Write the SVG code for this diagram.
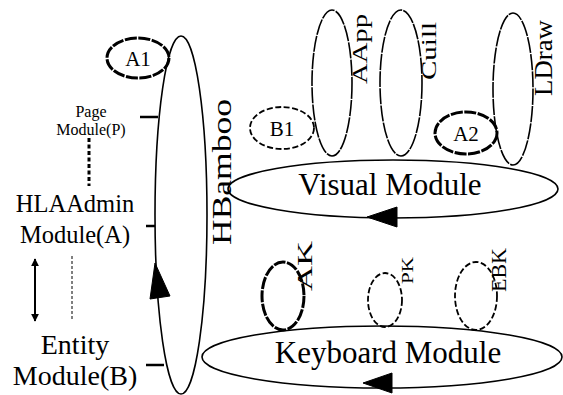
<svg xmlns="http://www.w3.org/2000/svg" width="563" height="395" viewBox="0 0 563 395">
  <style>
    text { font-family: "Liberation Serif", "Times New Roman", serif; fill: #000; }
    .outline { fill: none; stroke: #000; stroke-width: 1.6; }
    .rough { fill: none; stroke: #000; stroke-width: 1.6; stroke-dasharray: 16 1.2; }
    .dashed { fill: none; stroke: #000; stroke-width: 1.8; stroke-dasharray: 6 2.5; }
    .bold { fill: none; stroke: #000; stroke-width: 3; stroke-dasharray: 12 1.5; }
    .tick { stroke: #000; stroke-width: 2.5; }
    .head { fill: #000; stroke: #000; stroke-width: 1; }
  </style>
  <defs>
    <marker id="tip" viewBox="0 0 10 10" refX="9" refY="5" markerWidth="4" markerHeight="4" orient="auto-start-reverse">
      <path d="M0,0 L10,5 L0,10 z" fill="#000"/>
    </marker>
  </defs>

  <rect width="563" height="395" fill="#fff"/>

  <!-- left legend -->
  <g id="legend">
    <text x="91" y="117" font-size="16" text-anchor="middle">Page</text>
    <text x="91" y="135" font-size="16" text-anchor="middle">Module(P)</text>
    <text x="75" y="212" font-size="24.5" text-anchor="middle">HLAAdmin</text>
    <text x="75" y="243" font-size="24.5" text-anchor="middle">Module(A)</text>
    <text x="75" y="354" font-size="28" text-anchor="middle">Entity</text>
    <text x="75" y="385" font-size="28" text-anchor="middle">Module(B)</text>
  </g>

  <!-- connectors and legend strokes -->
  <g id="connectors">
    <line x1="89" y1="138" x2="89" y2="186" stroke="#000" stroke-width="3" stroke-dasharray="4 2.5"/>
    <line x1="35" y1="259" x2="35" y2="321" stroke="#000" stroke-width="2" marker-start="url(#tip)" marker-end="url(#tip)"/>
    <line x1="72" y1="256" x2="72" y2="320" stroke="#000" stroke-width="1" stroke-dasharray="3 2"/>
    <line class="tick" x1="140" y1="117" x2="158" y2="117"/>
    <line class="tick" x1="146" y1="226" x2="155" y2="226"/>
    <line class="tick" x1="146" y1="365" x2="164" y2="365"/>
    <!-- arrowheads riding on the module loops -->
    <path class="head" d="M155,263 L170,296 L150,299 z"/>
    <path class="head" d="M367,217 L397,207 L397,227 z"/>
    <path class="head" d="M363,383 L392,373 L392,393 z"/>
  </g>

  <!-- tall module loop -->
  <g id="bamboo">
    <ellipse class="outline" cx="181" cy="215" rx="26" ry="179"/>
    <text transform="translate(231,245) rotate(-90)" font-size="28" textLength="146" lengthAdjust="spacingAndGlyphs">HBamboo</text>
  </g>

  <g id="a1">
    <ellipse class="bold" cx="138" cy="58" rx="31" ry="20"/>
    <text x="138" y="66" font-size="21" text-anchor="middle">A1</text>
  </g>

  <!-- visual module -->
  <g id="visual">
    <ellipse class="outline" cx="393" cy="189" rx="165" ry="29"/>
    <text x="390" y="195" font-size="31" text-anchor="middle">Visual Module</text>
  </g>

  <g id="app">
    <ellipse class="rough" cx="332" cy="83" rx="20" ry="73"/>
    <text transform="translate(367,84) rotate(-90)" font-size="22" textLength="70" lengthAdjust="spacingAndGlyphs">AApp</text>
  </g>

  <g id="gui">
    <ellipse class="rough" cx="401" cy="83" rx="21" ry="73"/>
    <text transform="translate(436,80) rotate(-90)" font-size="22" textLength="58" lengthAdjust="spacingAndGlyphs">Cuill</text>
  </g>

  <g id="draw">
    <ellipse class="rough" cx="513" cy="89" rx="20" ry="76"/>
    <text transform="translate(552,96) rotate(-90)" font-size="26" textLength="76" lengthAdjust="spacingAndGlyphs">LDraw</text>
  </g>

  <g id="b1">
    <ellipse class="dashed" cx="282" cy="128" rx="32" ry="21"/>
    <text x="282" y="136" font-size="21" text-anchor="middle">B1</text>
  </g>

  <g id="a2">
    <ellipse class="bold" cx="466" cy="133" rx="31" ry="21"/>
    <text x="466" y="141" font-size="21" text-anchor="middle">A2</text>
  </g>

  <!-- keyboard module -->
  <g id="keyboard">
    <ellipse class="outline" cx="382" cy="357" rx="180" ry="31"/>
    <text x="388" y="363" font-size="31" text-anchor="middle">Keyboard Module</text>
  </g>

  <g id="ak">
    <ellipse class="bold" cx="283" cy="296" rx="21" ry="34" stroke-width="2.4"/>
    <text transform="translate(312,291) rotate(-90)" font-size="20" textLength="50" lengthAdjust="spacingAndGlyphs">AK</text>
  </g>

  <g id="pk">
    <ellipse class="dashed" cx="385" cy="300" rx="17" ry="27"/>
    <text transform="translate(413,284) rotate(-90)" font-size="16" textLength="27" lengthAdjust="spacingAndGlyphs">PK</text>
  </g>

  <g id="ebk">
    <ellipse class="dashed" cx="476" cy="296" rx="21" ry="34"/>
    <text transform="translate(506,292) rotate(-90)" font-size="20" textLength="44" lengthAdjust="spacingAndGlyphs">EBK</text>
  </g>
</svg>
